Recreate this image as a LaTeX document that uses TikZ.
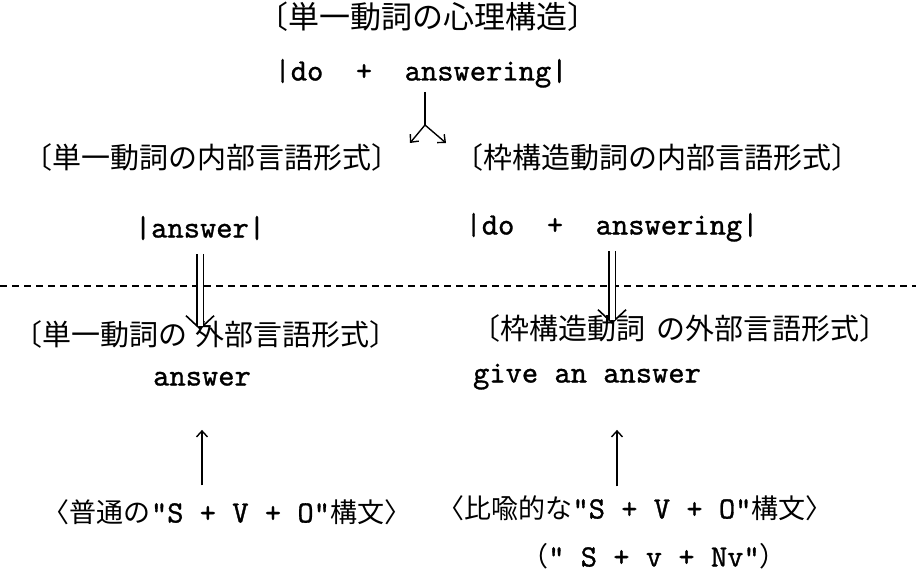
\documentclass[tikz,border=0pt]{standalone}
\usepackage{fontspec}
\usepackage{tikz}
\usetikzlibrary{arrows.meta}
\newfontfamily\jpfont{Noto Sans CJK JP}
\newfontfamily\twfont{lmmono10-regular.otf}[FakeBold=1]
\newcommand\jtext[1]{{\jpfont\fontsize{27}{28}\selectfont #1}}
\newcommand\ttext[1]{{\twfont\fontsize{31}{32}\selectfont #1}}

\begin{document}
\begin{tikzpicture}[x=1pt,y=-1pt,
    jlabel/.style={inner sep=0pt,font=\jpfont\fontsize{29}{30}\selectfont,text height=.88em,text depth=.12em},
    tform/.style={inner sep=0pt,font=\twfont\fontsize{31}{32}\selectfont,text height=.62em,text depth=.12em},
    mixed/.style={inner sep=0pt,text height=24pt,text depth=3pt},
    arr/.style={line width=1.4pt,-{Straight Barb[length=6pt,width=11pt]}},
    dblhead/.style={line width=1.6pt,-{Straight Barb[length=13pt,width=28pt]}},
    dbl/.style={double,double distance=5pt,line width=1.5pt},
    divider/.style={line width=1.2pt,dash pattern=on 7pt off 5pt},
  ]
  \useasboundingbox (0,0) rectangle (916,575);

  % inner level
  \node[jlabel,font=\jpfont\fontsize{31}{32}\selectfont] (title) at (428,25) {〔単一動詞の心理構造〕};
  \node[tform] (topform) at (421,78) {|do\ \ +\ \ answering|};
  \coordinate (fork) at (425,125);
  \coordinate (forkL) at (410,143);
  \coordinate (forkR) at (446,143);
  \draw[line width=1.4pt,shorten <=10pt] (topform.south -| fork) -- (fork);
  \draw[arr] (fork) -- (forkL);
  \draw[arr] (fork) -- (forkR);

  \node[jlabel] (innL) at (212,165) {〔単一動詞の内部言語形式〕};
  \node[jlabel] (innR) at (657,165) {〔枠構造動詞の内部言語形式〕};
  \node[tform] (formL) at (200,235) {|answer|};
  \node[tform] (formR) at (612,232) {|do\ \ +\ \ answering|};

  \draw[divider] (0,286) -- (916,286);

  % outer level
  \node[jlabel] (outL) at (206,342) {〔単一動詞の\hspace{.3em}外部言語形式〕};
  \node[jlabel] (outR) at (680,336) {〔枠構造動詞\hspace{.4em}の外部言語形式〕};
  \draw[dblhead,shorten <=15pt,shorten >=7pt] (formL.south) -- (formL.south |- outL.north);
  \draw[dbl,shorten <=15pt,shorten >=11pt] (formL.south) -- (formL.south |- outL.north);
  \draw[dblhead,shorten <=15pt,shorten >=7pt] (formR.south) -- (formR.south |- outR.north);
  \draw[dbl,shorten <=15pt,shorten >=11pt] (formR.south) -- (formR.south |- outR.north);

  \node[tform] (ansL) at (202,383) {answer};
  \node[tform] (ansR) at (587,380) {give an answer};

  % constructions
  \node[mixed] (synL) at (227,512) {\jtext{〈普通の}\ttext{"S + V + O"}\jtext{構文〉}};
  \node[mixed] (synR) at (635,508) {\jtext{〈比喩的な}\ttext{"S + V + O"}\jtext{構文〉}};
  \node[mixed] (synR2) at (654,556) {\jtext{（}\ttext{"\ S + v + Nv"}\jtext{）}};
  \draw[arr,shorten <=13pt,shorten >=43pt] (ansL.south |- synL.north) -- (ansL.south);
  \draw[arr,shorten <=8pt,shorten >=46pt] ([xshift=-18pt]synR.north) -- ([xshift=-18pt]synR.north |- ansR.south);
\end{tikzpicture}
\end{document}
